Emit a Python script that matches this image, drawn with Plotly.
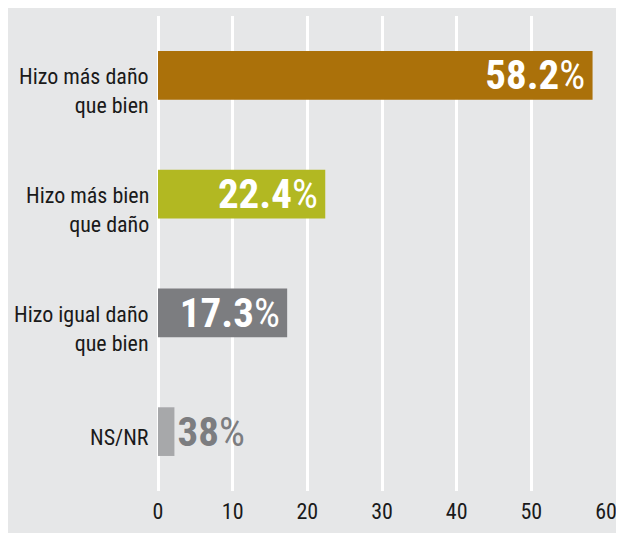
import plotly.graph_objects as go

categories = ["Hizo más daño<br>que bien", "Hizo más bien<br>que daño", "Hizo igual daño<br>que bien", "NS/NR"]
values = [58.2, 22.4, 17.3, 2.2]
value_labels = ["58.2", "22.4", "17.3", "38"]
bar_colors = ["#ab710a", "#b2b822", "#7c7d80", "#a7a8aa"]
text_colors = ["white", "white", "white", "#7c7d80"]
tick_vals = [0, 10, 20, 30, 40, 50, 60]

FONT = "Roboto Condensed, Liberation Sans Narrow, DejaVu Sans Condensed, sans-serif"
BG = "#e6e7e8"

ids = list(range(len(categories)))
texts = [f"<b>{t}</b>%\u200a" if i < 3 else f"<b>{t}</b>%" for i, t in enumerate(value_labels)]

fig = go.Figure(go.Bar(
    x=values, y=ids, orientation="h",
    marker=dict(color=bar_colors, line=dict(width=0)),
    width=0.41,
    text=texts,
    textposition=["inside", "inside", "inside", "outside"],
    insidetextanchor="end",
    textangle=0,
    constraintext="none",
    cliponaxis=False,
    textfont=dict(family=FONT, size=41, color=text_colors),
    hoverinfo="skip",
))

annotations = []
for i, c in enumerate(categories):
    two = "<br>" in c
    annotations.append(dict(
        x=-0.016, xref="paper", y=i, yref="y",
        text=c, showarrow=False, xanchor="right", yanchor="middle",
        align="right", yshift=-16 if two else -6,
        font=dict(family=FONT, size=22, color="#1a1a1a"),
    ))

fig.update_layout(
    width=616, height=525,
    margin=dict(l=150, r=18, t=8, b=42),
    paper_bgcolor=BG, plot_bgcolor=BG,
    showlegend=False,
    annotations=annotations,
    xaxis=dict(range=[0, 60], tickvals=tick_vals, showgrid=True, gridcolor="white", gridwidth=2.5,
               zeroline=True, zerolinecolor="white", zerolinewidth=2.5, showline=False,
               ticks="", ticklabelstandoff=5, automargin=False,
               tickfont=dict(family=FONT, size=22, color="#1a1a1a"), fixedrange=True),
    yaxis=dict(range=[3.5, -0.5], showticklabels=False, showgrid=False, zeroline=False,
               ticks="", fixedrange=True, automargin=False),
)

fig.write_html("out.html")
